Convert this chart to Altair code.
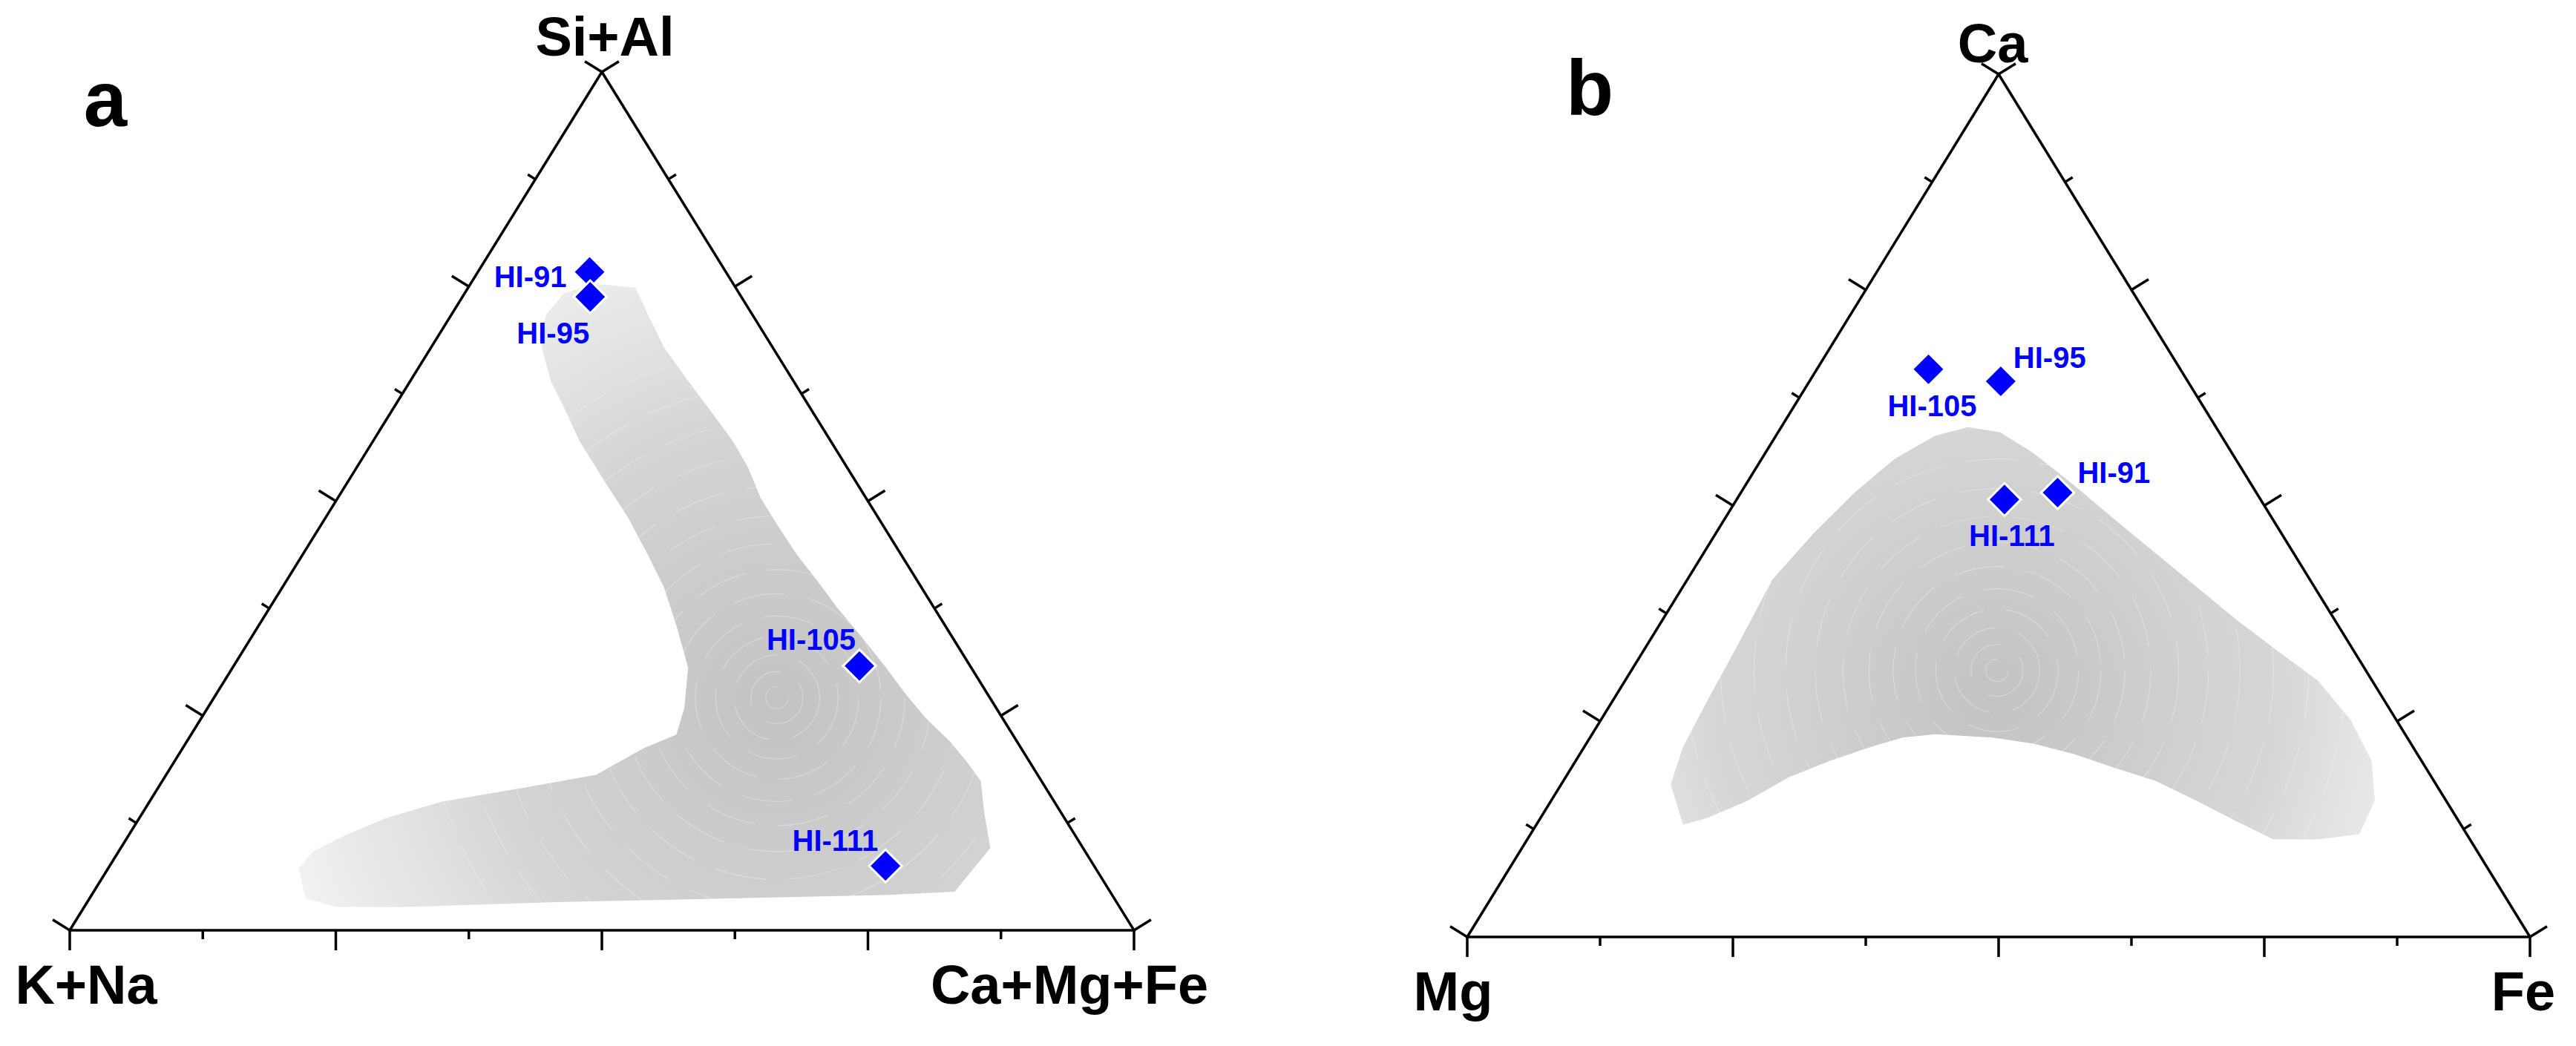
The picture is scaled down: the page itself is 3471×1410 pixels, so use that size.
import math
import altair as alt
import pandas as pd

# ---------------- data ----------------
samples = ["HI-91", "HI-95", "HI-105", "HI-111"]

# panel a: Si+Al (top) / K+Na (left) / Ca+Mg+Fe (right) fractions
a_si_al = [0.767, 0.738, 0.308, 0.075]
a_k_na = [0.128, 0.142, 0.104, 0.196]
a_ca_mg_fe = [0.105, 0.120, 0.588, 0.729]

# panel b: Ca (top) / Mg (left) / Fe (right) fractions
b_ca = [0.515, 0.644, 0.658, 0.507]
b_mg = [0.187, 0.176, 0.237, 0.241]
b_fe = [0.298, 0.180, 0.105, 0.252]

# outline of shaded density field, panel a (Si+Al, Ca+Mg+Fe)
region_a_si_al = [0.695, 0.718, 0.742, 0.753, 0.749, 0.718, 0.679, 0.640, 0.602, 0.570,
                  0.539, 0.504, 0.473, 0.438, 0.407, 0.376, 0.341, 0.306, 0.275, 0.247,
                  0.220, 0.197, 0.174, 0.135, 0.096, 0.045, 0.041, 0.037, 0.033, 0.027,
                  0.027, 0.037, 0.072, 0.092, 0.111, 0.131, 0.150, 0.166, 0.181, 0.212,
                  0.228, 0.259, 0.306, 0.353, 0.399, 0.438, 0.481, 0.524, 0.570, 0.609,
                  0.640, 0.672]
region_a_ca_mg_fe = [0.094, 0.089, 0.093, 0.117, 0.157, 0.184, 0.219, 0.261, 0.303, 0.338,
                     0.368, 0.397, 0.428, 0.464, 0.499, 0.533, 0.574, 0.614, 0.648, 0.681,
                     0.717, 0.744, 0.769, 0.792, 0.817, 0.809, 0.746, 0.597, 0.447, 0.299,
                     0.238, 0.203, 0.179, 0.183, 0.204, 0.232, 0.275, 0.343, 0.404, 0.433,
                     0.456, 0.448, 0.428, 0.394, 0.359, 0.324, 0.284, 0.240, 0.194, 0.160,
                     0.132, 0.109]
# density maximum of panel a field (Si+Al, Ca+Mg+Fe)
peak_a = (0.271, 0.529)

# outline of shaded density field, panel b (Ca, Fe)
region_b_ca = [0.130, 0.177, 0.220, 0.274, 0.344, 0.414, 0.468, 0.515, 0.554, 0.581,
               0.591, 0.585, 0.561, 0.523, 0.484, 0.445, 0.406, 0.367, 0.332, 0.297,
               0.251, 0.204, 0.158, 0.119, 0.113, 0.113, 0.134, 0.158, 0.181, 0.196,
               0.212, 0.224, 0.231, 0.235, 0.231, 0.220, 0.204, 0.185, 0.158, 0.138]
region_b_fe = [0.138, 0.103, 0.093, 0.089, 0.085, 0.080, 0.092, 0.107, 0.125, 0.150,
               0.176, 0.209, 0.252, 0.310, 0.367, 0.425, 0.483, 0.541, 0.596, 0.652,
               0.706, 0.749, 0.775, 0.780, 0.744, 0.702, 0.657, 0.607, 0.557, 0.511,
               0.465, 0.421, 0.379, 0.323, 0.294, 0.269, 0.239, 0.210, 0.185, 0.157]
# density maximum of panel b field (Ca, Fe)
peak_b = (0.309, 0.344)

tick_values = [0.0, 0.125, 0.25, 0.375, 0.5, 0.625, 0.75, 0.875, 1.0]

# ---------------- layout / style ----------------
PANEL_W = 1727
PANEL_H = 1394
FONT = "Liberation Sans"
BLUE = "#0000ff"
RING_DIAMETERS = [30, 70, 115, 165, 220, 280, 345, 415, 490, 570, 655, 745, 840, 940]

geom_a = dict(left=86, right=1520, bottom=1246, top=89)
geom_b = dict(left=242, right=1674, bottom=1255, top=92)

label_style_a = {"HI-91": ("right", -31, 20), "HI-95": ("center", -50, 63),
                 "HI-105": ("right", -5, -22), "HI-111": ("right", -10, -20)}
label_style_b = {"HI-91": ("left", 27, -13), "HI-95": ("left", 17, -18),
                 "HI-105": ("center", 5, 63), "HI-111": ("center", 10, 63)}

corner_a = [("Si+Al", "top", 4, -22), ("K+Na", "left", 22, 99), ("Ca+Mg+Fe", "right", -87, 99)]
corner_b = [("Ca", "top", -8, -16), ("Mg", "left", -19, 99), ("Fe", "right", -9, 99)]

grad_a = {"gradient": "radial", "x1": 0.69, "y1": 0.66, "r1": 0, "x2": 0.69, "y2": 0.66, "r2": 0.78,
          "stops": [{"offset": 0, "color": "#c3c3c3"}, {"offset": 0.5, "color": "#d3d3d3"},
                    {"offset": 1, "color": "#f6f6f6"}]}
grad_b = {"gradient": "radial", "x1": 0.46, "y1": 0.59, "r1": 0, "x2": 0.46, "y2": 0.59, "r2": 0.66,
          "stops": [{"offset": 0, "color": "#c3c3c3"}, {"offset": 0.6, "color": "#d6d6d6"},
                    {"offset": 1, "color": "#f3f3f3"}]}


def tern(top, right):
    return right + top / 2.0, top


def panel(g, pts_top, pts_right, reg_top, reg_right, peak, grad, label_style, corners,
          letter, letter_pos):
    sx = g["right"] - g["left"]
    sy = g["bottom"] - g["top"]
    x0 = -g["left"] / sx
    y0 = -(PANEL_H - g["bottom"]) / sy
    xs = alt.Scale(domain=[x0, x0 + PANEL_W / sx], nice=False, zero=False)
    ys = alt.Scale(domain=[y0, y0 + PANEL_H / sy], nice=False, zero=False)

    def X(f):
        return alt.X(f, type="quantitative", scale=xs, axis=None)

    def Y(f):
        return alt.Y(f, type="quantitative", scale=ys, axis=None)

    # region polygon
    rx, ry = zip(*[tern(t, r) for t, r in zip(reg_top, reg_right)])
    reg_df = pd.DataFrame({"x": rx, "y": ry, "i": range(len(rx))})
    region = alt.Chart(reg_df).mark_line(fill=grad, strokeOpacity=0, strokeWidth=0).encode(
        x=X("x"), y=Y("y"), order=alt.Order("i:Q"))

    # faint, broken concentric contour rings around the density maximum
    cx, cy = tern(*peak)
    ring_df = pd.DataFrame({"x": [cx] * len(RING_DIAMETERS), "y": [cy] * len(RING_DIAMETERS),
                            "s": [d * d for d in RING_DIAMETERS]})
    rings = alt.Chart(ring_df).mark_point(shape="circle", filled=False, stroke="white",
                                          strokeWidth=1.2, strokeOpacity=0.45,
                                          strokeDash=[70, 30]).encode(
        x=X("x"), y=Y("y"), size=alt.Size("s:Q", scale=None, legend=None))

    # triangle sides
    verts = {"left": (0.0, 0.0), "right": (1.0, 0.0), "top": (0.5, 1.0)}
    sides = pd.DataFrame([
        {"x": 0.0, "y": 0.0, "x2": 1.0, "y2": 0.0},
        {"x": 0.0, "y": 0.0, "x2": 0.5, "y2": 1.0},
        {"x": 1.0, "y": 0.0, "x2": 0.5, "y2": 1.0},
    ])
    frame = alt.Chart(sides).mark_rule(color="black", strokeWidth=3.5, strokeCap="square").encode(
        x=X("x"), y=Y("y"), x2="x2:Q", y2="y2:Q")

    # ticks (outward, perpendicular in pixel space)
    nl = (-sy, -0.5 * sx)
    nr = (sy, -0.5 * sx)
    nl = (nl[0] / math.hypot(*nl), nl[1] / math.hypot(*nl))
    nr = (nr[0] / math.hypot(*nr), nr[1] / math.hypot(*nr))
    rows = []
    for k, v in enumerate(tick_values):
        L = 27 if k % 2 == 0 else 12
        bx, by = v, 0.0
        rows.append({"x": bx, "y": by, "x2": bx, "y2": by - L / sy})
        lx, ly = 0.5 * v, v
        rows.append({"x": lx, "y": ly, "x2": lx + nl[0] * L / sx, "y2": ly - nl[1] * L / sy})
        qx, qy = 1.0 - 0.5 * v, v
        rows.append({"x": qx, "y": qy, "x2": qx + nr[0] * L / sx, "y2": qy - nr[1] * L / sy})
    ticks = alt.Chart(pd.DataFrame(rows)).mark_rule(color="black", strokeWidth=3.5).encode(
        x=X("x"), y=Y("y"), x2="x2:Q", y2="y2:Q")

    # points
    px, py = zip(*[tern(t, r) for t, r in zip(pts_top, pts_right)])
    pts_df = pd.DataFrame({"sample": samples, "x": px, "y": py})
    points = alt.Chart(pts_df).mark_point(shape="diamond", size=1950, filled=True, fill=BLUE,
                                          fillOpacity=1, stroke="white", strokeWidth=3,
                                          opacity=1).encode(x=X("x"), y=Y("y"))

    layers = [region, rings, frame, ticks, points]
    for s in samples:
        al, dx, dy = label_style[s]
        layers.append(alt.Chart(pts_df[pts_df["sample"] == s]).mark_text(
            align=al, baseline="alphabetic", dx=dx, dy=dy, font=FONT, fontWeight="bold",
            fontSize=40, color=BLUE).encode(x=X("x"), y=Y("y"), text="sample:N"))

    for name, where, dx, dy in corners:
        vx, vy = verts[where]
        cdf = pd.DataFrame({"x": [vx], "y": [vy], "label": [name]})
        layers.append(alt.Chart(cdf).mark_text(
            align="center", baseline="alphabetic", dx=dx, dy=dy, font=FONT, fontWeight="bold",
            fontSize=74, color="black").encode(x=X("x"), y=Y("y"), text="label:N"))

    ldf = pd.DataFrame({"label": [letter]})
    layers.append(alt.Chart(ldf).mark_text(
        align="center", baseline="alphabetic", font=FONT, fontWeight="bold", fontSize=105,
        color="black").encode(x=alt.value(letter_pos[0]), y=alt.value(letter_pos[1]),
                              text="label:N"))

    return alt.layer(*layers).properties(width=PANEL_W, height=PANEL_H)


panel_a = panel(geom_a, a_si_al, a_ca_mg_fe, region_a_si_al, region_a_ca_mg_fe, peak_a, grad_a,
                label_style_a, corner_a, "a", (134, 162))
panel_b = panel(geom_b, b_ca, b_fe, region_b_ca, region_b_fe, peak_b, grad_b,
                label_style_b, corner_b, "b", (407, 147))

chart = alt.hconcat(panel_a, panel_b, spacing=0, bounds="flush").properties(
    padding=0
).configure_view(strokeOpacity=0)

chart.save("out.html", embed_options={"renderer": "svg", "actions": False})
